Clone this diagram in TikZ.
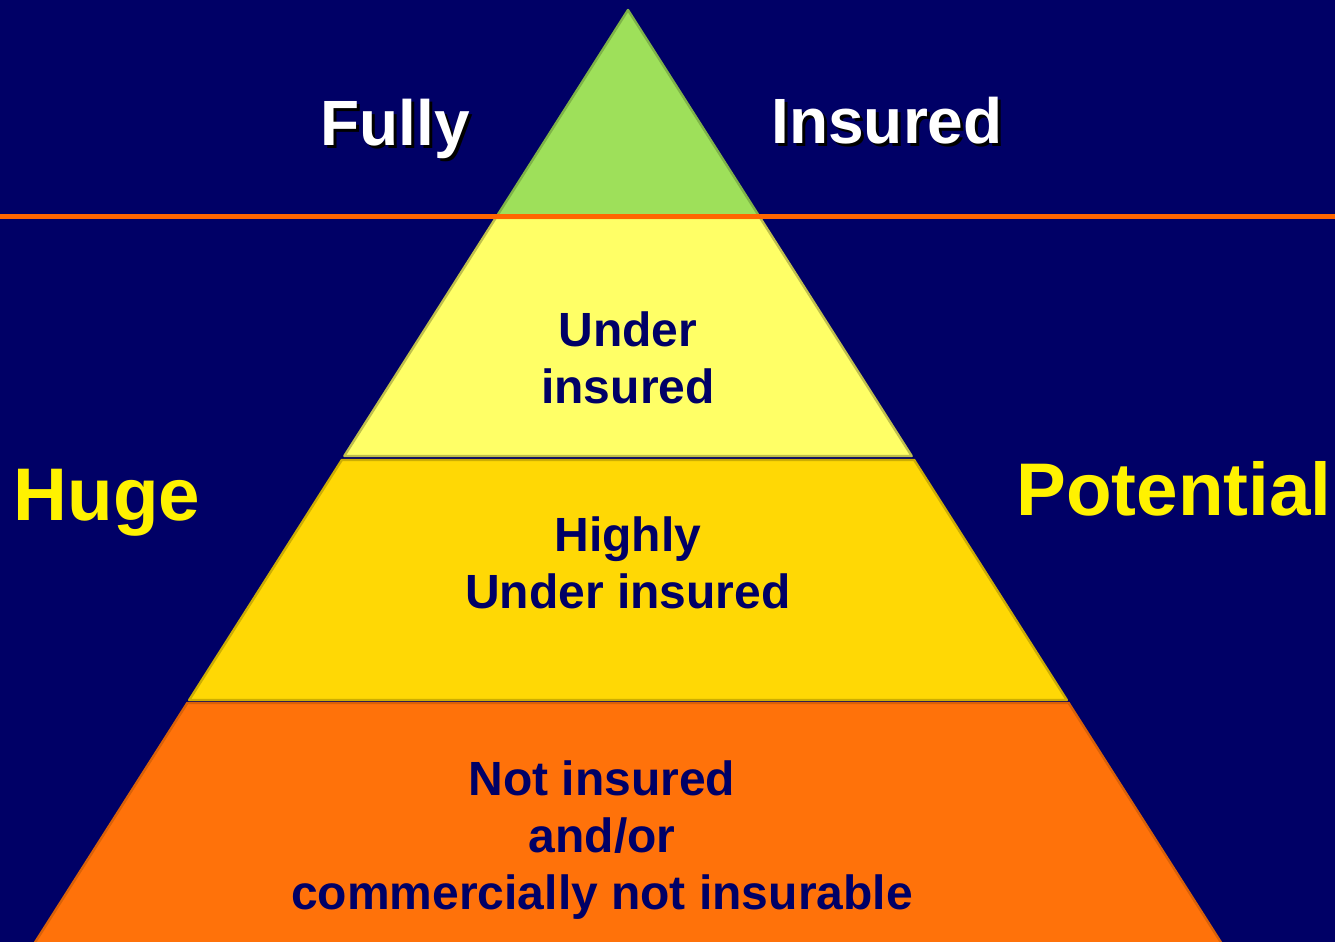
\documentclass[tikz,border=0pt]{standalone}
\usepackage{fontspec}
\setmainfont{Liberation Sans}
\usetikzlibrary{positioning}
\definecolor{navy}{RGB}{0,0,102}
\definecolor{topgreen}{RGB}{158,224,90}
\definecolor{paleyellow}{RGB}{255,255,102}
\definecolor{gold}{RGB}{255,216,5}
\definecolor{deeporange}{RGB}{255,114,10}
\definecolor{rule}{RGB}{255,102,0}
\tikzstyle{layer} = [line width=1.2pt, line join=round]
\tikzstyle{side} = [font=\bfseries\fontsize{37.3}{40}\selectfont, text=yellow, inner sep=0pt, anchor=base]
\tikzstyle{top} = [font=\bfseries\fontsize{32}{38}\selectfont, inner sep=0pt, anchor=base]
\tikzstyle{inside} = [font=\bfseries\fontsize{24}{28.7}\selectfont, text=navy, align=center, inner sep=0pt]

\begin{document}
\begin{tikzpicture}[x=0.5pt, y=-0.5pt]
        \fill[navy] (0,0) rectangle (1335,942);
        \useasboundingbox (0,0) rectangle (1335,942);

        % pyramid layers
        \fill[layer, topgreen, draw=topgreen!80!black] (628,10) -- (759,216) -- (497,216) -- cycle;
        \fill[layer, paleyellow, draw=paleyellow!75!black] (495.7,218) -- (760.3,218) -- (911.7,456) -- (344.3,456) -- cycle;
        \fill[layer, gold, draw=gold!80!black] (341.8,460) -- (914.2,460) -- (1066.8,700) -- (189.2,700) -- cycle;
        \fill[layer, deeporange, draw=deeporange!85!black] (187.3,703) -- (1068.7,703) -- (1222,944) -- (34,944) -- cycle;

        \coordinate (rulel) at (0,216);
        \coordinate (ruler) at (1335,216);
        \draw[rule, line width=2.5pt] (rulel) -- (ruler);

        % labels above the line
        \node[top, text=black] at (398,148) {Fully};
        \node[top, text=white] (fully) at (395,145) {Fully};
        \node[top, text=black] at (890,146) {Insured};
        \node[top, text=white] (insured) at (887,143) {Insured};

        \node[side] (huge) at (107,520) {Huge};
        \node[side] (potential) at (1174,515) {Potential};

        % labels inside
        \node[inside] (under) at (628,358) {Under\\insured};
        \node[inside] (highly) at (628,563) {Highly\\Under insured};
        \node[inside] (notins) at (602,840) {Not insured\\and/or\\commercially not insurable};
\end{tikzpicture}
\end{document}
